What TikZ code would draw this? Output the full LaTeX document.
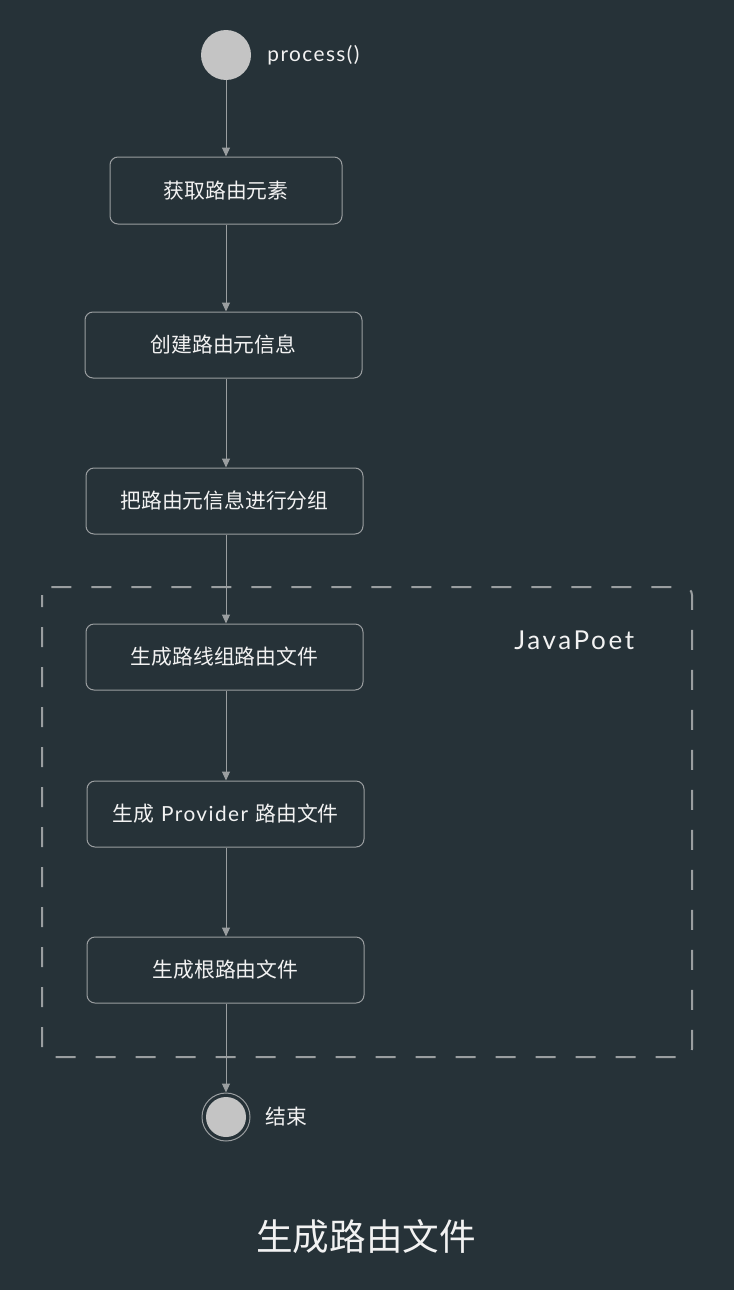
\documentclass[tikz,border=0pt]{standalone}
\usepackage{fontspec}
\setmainfont{Noto Sans CJK SC}
\newfontfamily\latf{Lato}[LetterSpace=7]
\newfontfamily\latw{Lato}[LetterSpace=10]
\usetikzlibrary{arrows.meta}
\definecolor{bg}{HTML}{263238}
\definecolor{ln}{HTML}{9A9EA0}
\definecolor{fillc}{HTML}{C4C4C4}
\definecolor{txt}{HTML}{F2F2F2}
\begin{document}
\begin{tikzpicture}[x=0.5pt,y=-0.5pt,
  stepbox/.style={draw=ln,line width=0.5pt,rounded corners=4pt,fill=bg,text=txt,font=\fontsize{10.4}{12}\selectfont,inner sep=0pt},
  conn/.style={draw=ln,line width=0.5pt,-{Triangle[length=4.5pt,width=4pt]}},
  lbl/.style={text=txt,font=\fontsize{10.4}{12}\selectfont,anchor=west,inner sep=0pt}]
\fill[bg] (0,0) rectangle (734,1290);
\useasboundingbox (0,0) rectangle (734,1290);
% dashed group
\draw[ln,line width=1pt,dash pattern=on 10pt off 10pt,dash phase=4pt,rounded corners=4pt] (42,587) rectangle (692,1057);
\node[lbl,font=\fontsize{13}{15}\selectfont\latw] (jp) at (514,640) {JavaPoet};
% start
\node[circle,fill=fillc,minimum size=25pt,inner sep=0pt] (start) at (226,55) {};
\node[lbl,font=\fontsize{10.4}{12}\selectfont\latf] (startl) at (267,55) {process()};
% boxes
\node[stepbox,minimum width=116pt,minimum height=33.5pt] (b1) at (226,190.5) {获取路由元素};
\node[stepbox,minimum width=138.5pt,minimum height=33pt] (b2) at (223.5,345) {创建路由元信息};
\node[stepbox,minimum width=138.5pt,minimum height=33pt] (b3) at (224.5,501) {把路由元信息进行分组};
\node[stepbox,minimum width=138.5pt,minimum height=33pt] (b4) at (224.5,657) {生成路线组路由文件};
\node[stepbox,minimum width=138.5pt,minimum height=33pt] (b5) at (225.5,814) {生成\hspace{0.35em}{\latf Provider}\hspace{0.35em}路由文件};
\node[stepbox,minimum width=138.5pt,minimum height=33pt] (b6) at (225.5,970) {生成根路由文件};
% end
\node[circle,draw=ln,line width=0.5pt,minimum size=24pt,inner sep=0pt] (end) at (226,1117) {};
\node[circle,fill=fillc,minimum size=20pt,inner sep=0pt] (endin) at (226,1117) {};
\node[lbl] (endl) at (265,1117) {结束};
% connectors
\draw[conn] (start.south) -- (b1.north -| start.south);
\draw[conn] (b1.south -| start.south) -- (b2.north -| start.south);
\draw[conn] (b2.south -| start.south) -- (b3.north -| start.south);
\draw[conn] (b3.south -| start.south) -- (b4.north -| start.south);
\draw[conn] (b4.south -| start.south) -- (b5.north -| start.south);
\draw[conn] (b5.south -| start.south) -- (b6.north -| start.south);
\draw[conn] (b6.south -| end.north) -- (end.north);
% title
\node[text=txt,font=\fontsize{18.3}{21}\selectfont,inner sep=0pt] (title) at (366,1237) {生成路由文件};
\end{tikzpicture}
\end{document}
